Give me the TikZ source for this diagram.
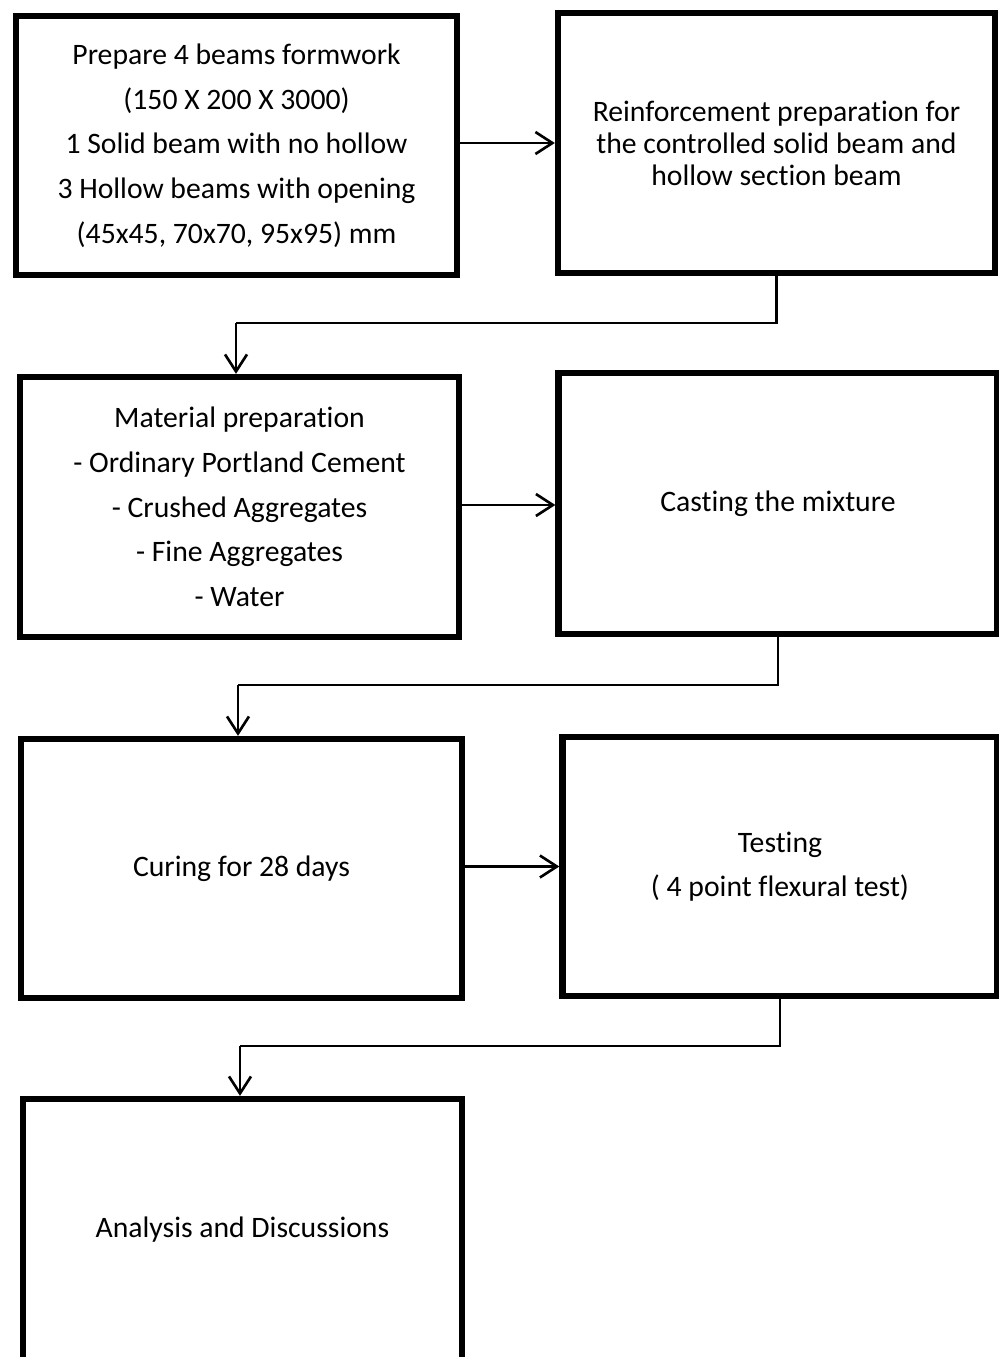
\documentclass[tikz,border=0pt]{standalone}
\usepackage{fontspec}
\setmainfont{Carlito}[Ligatures=NoCommon]
\usetikzlibrary{arrows.meta}
\begin{document}
\begin{tikzpicture}[x=0.02cm,y=-0.02cm,
  stepbox/.style={draw=black,line width=3.6pt,rectangle,align=center,inner sep=0pt,
    font=\fontsize{16.9}{25.4}\selectfont},
  conn/.style={draw=black,line width=1.3pt},
  arr/.style={conn,-{Straight Barb[length=0.34cm,width=0.44cm,line width=1.5pt]}}]
\useasboundingbox (0,0) rectangle (999,1357);
\node[stepbox,minimum width=441*0.02cm,minimum height=259*0.02cm] (b1) at (236.5,145.5)
  {Prepare 4 beams formwork\\(150 X 200 X 3000)\\1 Solid beam with no hollow\\3 Hollow beams with opening\\(45x45, 70x70, 95x95) mm};
\node[stepbox,minimum width=437*0.02cm,minimum height=260*0.02cm,font=\fontsize{16.9}{18.2}\selectfont] (b2) at (776.5,143)
  {Reinforcement preparation for\\the controlled solid beam and\\hollow section beam};
\node[stepbox,minimum width=439*0.02cm,minimum height=260*0.02cm] (b3) at (239.5,507)
  {Material preparation\\- Ordinary Portland Cement\\- Crushed Aggregates\\- Fine Aggregates\\- Water};
\node[stepbox,minimum width=439*0.02cm,minimum height=261*0.02cm] (b4) at (778,503.5)
  {Casting the mixture};
\node[stepbox,minimum width=441*0.02cm,minimum height=259*0.02cm] (b5) at (241.5,868.5)
  {Curing for 28 days};
\node[stepbox,minimum width=435*0.02cm,minimum height=259*0.02cm,font=\fontsize{16.9}{25}\selectfont] (b6) at (780,866.5)
  {Testing\\( 4 point flexural test)};
\node[stepbox,minimum width=439*0.02cm,minimum height=262*0.02cm] (b7) at (242.5,1230)
  {Analysis and Discussions};
\coordinate (k1) at (236,323);
\coordinate (k2) at (238,685);
\coordinate (k3) at (240,1046);
\draw[arr] (b1.east |- b2.west) -- (b2.west);
\draw[arr] (b3.east |- 0,505) -- (b4.west |- 0,505);
\draw[arr] (b5.east |- b6.west) -- (b6.west);
\draw[conn] (b2.south) |- (k1);
\draw[arr] (k1) -- (k1 |- b3.north);
\draw[conn] (b4.south) |- (k2);
\draw[arr] (k2) -- (k2 |- b5.north);
\draw[conn] (b6.south) |- (k3);
\draw[arr] (k3) -- (k3 |- b7.north);
\end{tikzpicture}
\end{document}
